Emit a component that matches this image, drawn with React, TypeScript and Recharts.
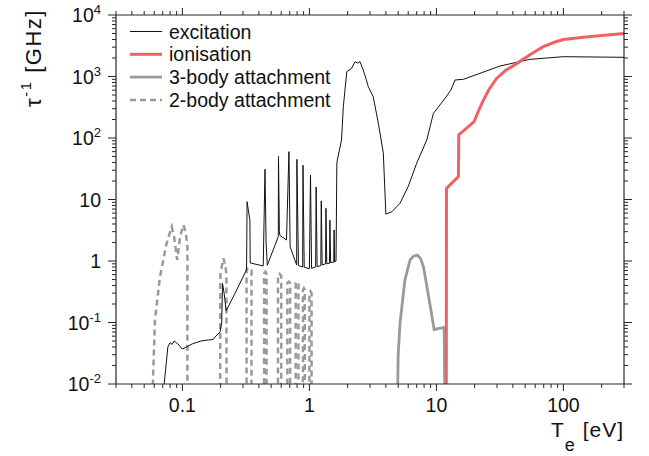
import { LineChart, Line, XAxis, YAxis, Legend } from "recharts";

const FONT = "'Liberation Sans', Arial, Helvetica, sans-serif";
const AXIS = "#262626";
const RED = "#f06262";
const GREY = "#9a9a9a";

// [T_e in eV, 1/tau in GHz]
const excitation = [
  [0.0715, 0.009], [0.0768, 0.04], [0.08, 0.047], [0.083, 0.044], [0.086, 0.05],
  [0.092, 0.045], [0.1, 0.037], [0.12, 0.045], [0.14, 0.05], [0.16, 0.052],
  [0.175, 0.053], [0.183, 0.06], [0.198, 0.07], [0.204, 0.1], [0.207, 0.43],
  [0.213, 0.3], [0.221, 0.155], [0.26, 0.3], [0.3, 0.55], [0.32, 0.72],
  [0.323, 9.2], [0.34, 4.6], [0.342, 0.93], [0.433, 0.83],
  [0.447, 31], [0.456, 2], [0.466, 0.85], [0.569, 2.5], [0.571, 50],
  [0.58, 3], [0.586, 2.6], [0.66, 2.2], [0.69, 60], [0.705, 1.7],
  [0.794, 0.86], [0.797, 45], [0.82, 0.84], [0.885, 0.8], [0.89, 36],
  [0.91, 0.79], [1.0, 0.75], [1.02, 25], [1.04, 0.76], [1.12, 0.8],
  [1.13, 16], [1.15, 0.81], [1.23, 0.84], [1.24, 9.5], [1.26, 0.86],
  [1.34, 0.9], [1.35, 7.2], [1.37, 0.9], [1.44, 0.92], [1.45, 4.6],
  [1.47, 0.94], [1.555, 0.96], [1.565, 3.2], [1.58, 0.97], [1.62, 1.0],
  [1.645, 40], [1.79, 93], [1.85, 324], [1.97, 1200], [2.15, 1360],
  [2.29, 1740], [2.4, 1650], [2.5, 1750], [2.65, 1280], [2.8, 900],
  [2.91, 680], [3.18, 470], [3.49, 173], [3.82, 57], [4.0, 5.8],
  [4.45, 6.3], [5.17, 8.7], [6.0, 16.3], [7.0, 39], [8.4, 93],
  [9.46, 250], [11.7, 443], [13.0, 600], [14.0, 877], [16.3, 900],
  [22, 1125], [31.7, 1480], [54.5, 1900], [100, 2100], [300, 2050],
];

const ionisation = [
  [11.95, 0.001], [12.0, 15.1], [14.9, 23.5], [15.0, 112], [19.8, 184],
  [21.5, 280], [23.4, 410], [26, 620], [29.8, 930], [35, 1250],
  [42.9, 1620], [54.5, 2250], [69.4, 3050], [85, 3600], [100, 4000],
  [150, 4400], [300, 5000],
];

const threeBody = [
  [4.88, 0.001], [5.0, 0.03], [5.17, 0.097], [5.65, 0.49], [6.2, 1.04],
  [6.6, 1.2], [7.07, 1.25], [7.5, 1.1], [7.9, 0.81], [8.6, 0.3],
  [9.6, 0.077], [11.5, 0.083], [11.75, 0.001],
];

const twoBody = [
  [0.0565, 0.001], [0.0608, 0.11], [0.0666, 0.556], [0.0751, 1.94], [0.0824, 3.6],
  [0.086, 2.5], [0.091, 1.04], [0.096, 2.5], [0.1017, 3.85], [0.106, 3],
  [0.1095, 1.7], [0.1095, 0.001],
  [0.198, 0.001], [0.199, 0.6], [0.21, 1.1], [0.218, 0.85], [0.222, 0.6], [0.223, 0.001],
  [0.32, 0.001], [0.32, 0.72], [0.333, 0.78], [0.35, 0.7], [0.35, 0.001],
  [0.44, 0.001], [0.44, 0.62], [0.45, 0.67], [0.46, 0.62], [0.46, 0.001],
  [0.566, 0.001], [0.566, 0.58], [0.58, 0.62], [0.6, 0.58], [0.6, 0.001],
  [0.67, 0.001], [0.67, 0.44], [0.69, 0.46], [0.705, 0.44], [0.705, 0.001],
  [0.78, 0.001], [0.78, 0.44], [0.8, 0.46], [0.82, 0.44], [0.82, 0.001],
  [0.89, 0.001], [0.89, 0.34], [0.905, 0.36], [0.92, 0.34], [0.92, 0.001],
  [1.0, 0.001], [1.0, 0.3], [1.02, 0.32], [1.04, 0.3], [1.04, 0.001],
];

const xTicks = [
  0.03, 0.04, 0.05, 0.06, 0.07, 0.08, 0.09, 0.1,
  0.2, 0.3, 0.4, 0.5, 0.6, 0.7, 0.8, 0.9, 1,
  2, 3, 4, 5, 6, 7, 8, 9, 10,
  20, 30, 40, 50, 60, 70, 80, 90, 100, 200, 300,
];
const xMajor = [0.1, 1, 10, 100];

const yDecades = [0.01, 0.1, 1, 10, 100, 1000];
const yMinorSteps = [1, 2, 3, 4, 5, 6, 7, 8, 9];
const yTicks = [
  ...yDecades.flatMap((d) => yMinorSteps.map((m) => +(d * m).toPrecision(3))),
  10000,
];
const yLabels: Record<string, [string, string]> = {
  "0.01": ["10", "-2"],
  "0.1": ["10", "-1"],
  "1": ["1", ""],
  "10": ["10", ""],
  "100": ["10", "2"],
  "1000": ["10", "3"],
  "10000": ["10", "4"],
};

const legendItems = [
  { name: "excitation", color: "#111", width: 1, dash: undefined },
  { name: "ionisation", color: RED, width: 3, dash: undefined },
  { name: "3-body attachment", color: GREY, width: 2.8, dash: undefined },
  { name: "2-body attachment", color: GREY, width: 2.5, dash: "6 4" },
];

const toPts = (arr: number[][]) => arr.map(([t, v]) => ({ t, v }));

function BottomTick({ x, y, payload }: any) {
  const major = xMajor.includes(payload.value);
  return (
    <g>
      <line x1={x} x2={x} y1={y} y2={y + (major ? 7 : 4)} stroke={AXIS} />
      {major ? (
        <text x={x} y={y + 28} textAnchor="middle" fontSize={19.5} fill="#111" fontFamily={FONT}>
          {String(payload.value)}
        </text>
      ) : null}
    </g>
  );
}

function TopTick({ x, y, payload }: any) {
  const major = xMajor.includes(payload.value);
  return <line x1={x} x2={x} y1={y} y2={y - (major ? 7 : 4)} stroke={AXIS} />;
}

function LeftTick({ x, y, payload }: any) {
  const lab = yLabels[String(payload.value)];
  return (
    <g>
      <line x1={x} x2={x - (lab ? 8 : 4)} y1={y} y2={y} stroke={AXIS} />
      {lab ? (
        <text x={x - 15} y={y + 7} textAnchor="end" fontSize={19.5} fill="#111" fontFamily={FONT}>
          <tspan>{lab[0]}</tspan>
          {lab[1] ? (
            <tspan dy={-8} fontSize={13}>
              {lab[1]}
            </tspan>
          ) : null}
        </text>
      ) : null}
    </g>
  );
}

function RightTick({ x, y, payload }: any) {
  const major = !!yLabels[String(payload.value)];
  return <line x1={x} x2={x + (major ? 8 : 4)} y1={y} y2={y} stroke={AXIS} />;
}

const xTitle = () => (
  <text x={624} y={437} textAnchor="end" fontSize={21} letterSpacing={1} fill="#111" fontFamily={FONT}>
    T
    <tspan dy={14} fontSize={18}>
      e
    </tspan>
    <tspan dy={-14}> [eV]</tspan>
  </text>
);

const yTitle = () => (
  <text
    transform="translate(41, 58) rotate(-90)"
    textAnchor="middle"
    fontSize={22}
    letterSpacing={1.5}
    fill="#111"
    fontFamily={FONT}
  >
    τ
    <tspan dy={-10} fontSize={15}>
      -1
    </tspan>
    <tspan dy={10}> [GHz]</tspan>
  </text>
);

const renderLegend = () => (
  <svg width={240} height={100}>
    {legendItems.map((it, i) => {
      const cy = 13.5 + i * 22.8;
      return (
        <g key={it.name}>
          <line
            x1={5}
            x2={37}
            y1={cy}
            y2={cy}
            stroke={it.color}
            strokeWidth={it.width}
            strokeDasharray={it.dash}
          />
          <text x={44} y={cy + 7} fontSize={19.5} fill="#111" fontFamily={FONT}>
            {it.name}
          </text>
        </g>
      );
    })}
  </svg>
);

export default function App() {
  return (
    <div style={{ position: "absolute", left: 0, top: 0, background: "#fff" }}>
      <LineChart width={649} height={456} margin={{ top: 5, right: 15, bottom: 32, left: 56 }}>
        <XAxis
          xAxisId="b"
          dataKey="t"
          type="number"
          scale="log"
          domain={[0.03, 300]}
          allowDataOverflow
          ticks={xTicks}
          interval={0}
          tick={BottomTick}
          tickLine={false}
          tickSize={0}
          tickMargin={0}
          axisLine={{ stroke: AXIS, strokeWidth: 1.2 }}
          height={40}
          label={xTitle}
        />
        <XAxis
          xAxisId="t"
          orientation="top"
          dataKey="t"
          type="number"
          scale="log"
          domain={[0.03, 300]}
          allowDataOverflow
          ticks={xTicks}
          interval={0}
          tick={TopTick}
          tickLine={false}
          tickSize={0}
          tickMargin={0}
          axisLine={{ stroke: AXIS, strokeWidth: 1.2 }}
          height={10}
        />
        <YAxis
          yAxisId="l"
          type="number"
          scale="log"
          domain={[0.01, 10000]}
          allowDataOverflow
          ticks={yTicks}
          interval={0}
          tick={LeftTick}
          tickLine={false}
          tickSize={0}
          tickMargin={0}
          axisLine={{ stroke: AXIS, strokeWidth: 1.2 }}
          width={60}
          label={yTitle}
        />
        <YAxis
          yAxisId="r"
          orientation="right"
          type="number"
          scale="log"
          domain={[0.01, 10000]}
          allowDataOverflow
          ticks={yTicks}
          interval={0}
          tick={RightTick}
          tickLine={false}
          tickSize={0}
          tickMargin={0}
          axisLine={{ stroke: AXIS, strokeWidth: 1.2 }}
          width={10}
        />
        <Legend
          layout="horizontal"
          verticalAlign="middle"
          align="center"
          content={renderLegend}
          wrapperStyle={{ left: 125, top: 18, width: 240, height: 100 }}
        />
        <Line
          xAxisId="b"
          yAxisId="l"
          data={toPts(twoBody)}
          dataKey="v"
          name="2-body attachment"
          type="linear"
          stroke={GREY}
          strokeWidth={2.5}
          strokeDasharray="6 4"
          dot={false}
          isAnimationActive={false}
        />
        <Line
          xAxisId="b"
          yAxisId="l"
          data={toPts(threeBody)}
          dataKey="v"
          name="3-body attachment"
          type="linear"
          stroke={GREY}
          strokeWidth={2.8}
          dot={false}
          isAnimationActive={false}
        />
        <Line
          xAxisId="b"
          yAxisId="l"
          data={toPts(excitation)}
          dataKey="v"
          name="excitation"
          type="linear"
          stroke="#111"
          strokeWidth={1}
          dot={false}
          isAnimationActive={false}
        />
        <Line
          xAxisId="b"
          yAxisId="l"
          data={toPts(ionisation)}
          dataKey="v"
          name="ionisation"
          type="linear"
          stroke={RED}
          strokeWidth={3}
          dot={false}
          isAnimationActive={false}
        />
      </LineChart>
    </div>
  );
}
